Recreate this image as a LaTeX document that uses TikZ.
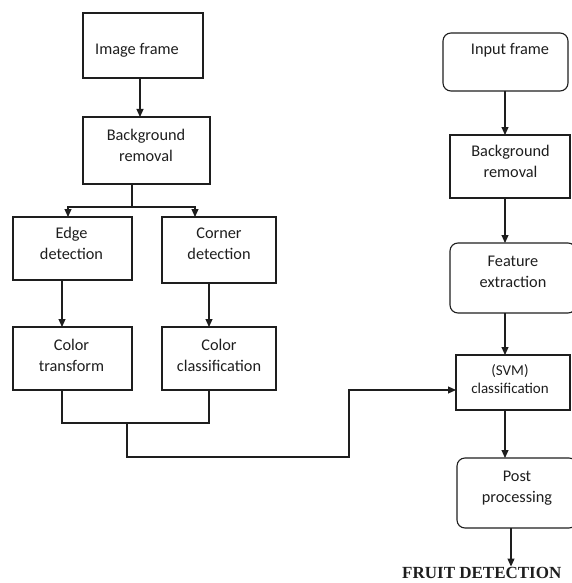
\documentclass[tikz,border=0pt]{standalone}
\usepackage{fontspec}
\setmainfont{Carlito}
\newfontfamily\fruitfont{Liberation Serif}
\usetikzlibrary{arrows.meta}
\definecolor{ink}{HTML}{1E1E1E}
\tikzset{
  box/.style={draw=ink, line width=1.1pt, rectangle, inner sep=0pt, outer sep=0pt},
  rbox/.style={box, rounded corners=8pt},
  txt/.style={align=center, inner sep=0pt, text=ink, font=\fontsize{16.3}{21}\selectfont},
  stxt/.style={align=center, inner sep=0pt, text=ink, font=\fontsize{15}{18}\selectfont},
  link/.style={draw=ink, line width=1.1pt},
  arr/.style={link, -{Triangle[length=8pt,width=7pt]}}
}
\begin{document}
\begin{tikzpicture}[x=1pt,y=-1pt]
\useasboundingbox (0,0) rectangle (571,583);
% left column boxes
\node[box, minimum width=120, minimum height=65] (img) at (143,45.5) {};
\node[box, minimum width=127, minimum height=67] (bga) at (146.5,150.5) {};
\node[box, minimum width=119, minimum height=63] (edge) at (72.5,248.5) {};
\node[box, minimum width=114, minimum height=66] (corner) at (219,250) {};
\node[box, minimum width=119, minimum height=63] (ctr) at (72.5,358.5) {};
\node[box, minimum width=114, minimum height=63] (ccl) at (219,358.5) {};
% right column boxes
\node[rbox, minimum width=125, minimum height=58] (inp) at (505.5,62) {};
\node[box, minimum width=120, minimum height=63] (bgb) at (510,166.5) {};
\node[rbox, minimum width=126, minimum height=70] (feat) at (513,278) {};
\node[box, minimum width=114, minimum height=55] (svm) at (513,382.5) {};
\node[rbox, minimum width=120, minimum height=70] (post) at (517,493) {};
% texts
\node[txt] (timg) at (137,50) {Image frame};
\node[txt] (tbga) at (146,145.5) {Background\\removal};
\node[txt] (tedge) at (71.5,243) {Edge\\detection};
\node[txt] (tcorner) at (219,243.5) {Corner\\detection};
\node[txt] (tctr) at (71.5,355.5) {Color\\transform};
\node[txt] (tccl) at (219,355.5) {Color\\classification};
\node[txt] (tinp) at (510,50) {Input frame};
\node[txt] (tbgb) at (510.5,161.5) {Background\\removal};
\node[txt] (tfeat) at (513,271.5) {Feature\\extraction};
\node[stxt] (tsvm) at (510,379) {(SVM)\\classification};
\node[txt] (tpost) at (517,488.5) {Post\\processing};
\node[anchor=base west, inner sep=0pt, text=ink, font=\fruitfont\bfseries\fontsize{17}{20}\selectfont] (fruit) at (402,578) {FRUIT DETECTION};
% helper coordinates
\coordinate (a1) at (140,0);
\coordinate (j1) at (132,207);
\coordinate (e1) at (68,0);
\coordinate (c1) at (195,0);
\coordinate (e2) at (62,0);
\coordinate (c2) at (209,0);
\coordinate (j3) at (127,423);
\coordinate (k) at (349,390);
\coordinate (r) at (505,0);
\coordinate (p) at (511,0);
% left connectors
\draw[arr] (img.south -| a1) -- (bga.north -| a1);
\draw[link] (bga.south -| j1) -- (j1);
\draw[arr] (j1) -| (edge.north -| e1);
\draw[arr] (j1) -| (corner.north -| c1);
\draw[arr] (edge.south -| e2) -- (ctr.north -| e2);
\draw[arr] (corner.south -| c2) -- (ccl.north -| c2);
\draw[link] (ctr.south -| e2) -- ++(0,33) -| (ccl.south -| c2);
\draw[arr] (j3) -- ++(0,34) -| (k) -- (svm.west |- k);
% right connectors
\draw[arr] (inp.south -| r) -- (bgb.north -| r);
\draw[arr] (bgb.south -| r) -- (feat.north -| r);
\draw[arr] (feat.south -| r) -- (svm.north -| r);
\draw[arr] (svm.south -| r) -- (post.north -| r);
\draw[arr] (post.south -| p) -- (fruit.north -| p);
\end{tikzpicture}
\end{document}
